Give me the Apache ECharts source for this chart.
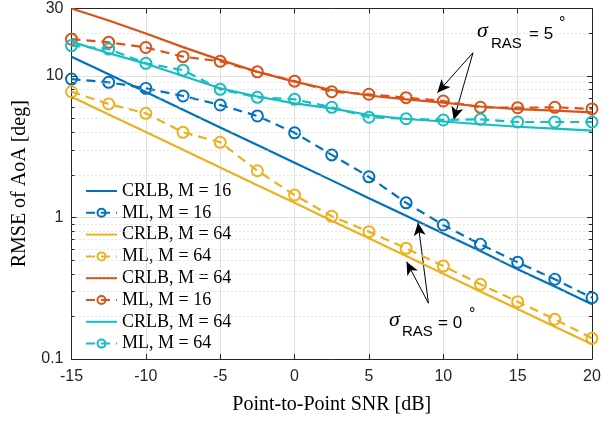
<!DOCTYPE html>
<html>
<head>
<meta charset="utf-8">
<script src="https://cdn.jsdelivr.net/npm/echarts@6/dist/echarts.min.js"></script>
<style>html,body{margin:0;padding:0;background:#fff}#c{width:604px;height:421px}</style>
</head>
<body>
<div id="c"></div>
<script>
// ---- data ----
const snr = [-15, -12.5, -10, -7.5, -5, -2.5, 0, 2.5, 5, 7.5, 10, 12.5, 15, 17.5, 20];
const xTicks = [-15, -10, -5, 0, 5, 10, 15, 20];
const yTickLabels = ['0.1', '1', '10', '30'];
const crlbM16Ras0 = [13.7, 10.3, 7.7, 5.78, 4.33, 3.25, 2.44, 1.83, 1.37, 1.03, 0.77, 0.58, 0.43, 0.325, 0.244];
const mlM16Ras0   = [9.52, 9.03, 8.19, 7.22, 6.24, 5.22, 3.97, 2.77, 1.94, 1.27, 0.885, 0.647, 0.482, 0.366, 0.271];
const crlbM64Ras0 = [7.14, 5.35, 4.02, 3.01, 2.26, 1.69, 1.27, 0.95, 0.714, 0.535, 0.40, 0.30, 0.226, 0.169, 0.127];
const mlM64Ras0   = [7.74, 6.34, 5.45, 4.0, 3.4, 2.14, 1.44, 1.02, 0.794, 0.606, 0.454, 0.337, 0.254, 0.191, 0.14];
const crlbRas5a   = [30.0, 24.7, 20.0, 16.0, 13.0, 10.7, 9.12, 7.96, 7.28, 6.84, 6.48, 6.09, 5.84, 5.69, 5.54];
const mlM16Ras5   = [18.2, 17.3, 15.9, 13.7, 12.7, 10.7, 9.2, 7.74, 7.43, 7.03, 6.66, 6.01, 5.97, 6.01, 5.85];
const crlbRas5b   = [17.5, 14.5, 12.2, 10.0, 8.19, 7.16, 6.41, 5.91, 5.3, 4.97, 4.77, 4.56, 4.38, 4.25, 4.11];
const mlM64Ras5   = [16.4, 15.5, 12.3, 11.0, 8.05, 7.07, 6.84, 6.01, 5.11, 4.99, 4.89, 4.94, 4.73, 4.73, 4.73];
const minorGrid = [0.2,0.3,0.4,0.5,0.6,0.7,0.8,0.9,2,3,4,5,6,7,8,9,20];
// arrow annotation endpoints in data coordinates [snr, rmse]
const arrows5 = { from: [12.0, 14.6], to: [[9.6, 7.62], [10.7, 4.89]] };
const arrows0 = { from: [9.0, 0.248], to: [[8.3, 0.919], [7.53, 0.487]] };

const names = ['CRLB, M = 16', 'ML, M = 16', 'CRLB, M = 64', 'ML, M = 64',
               'CRLB, M = 64 ', 'ML, M = 16 ', 'CRLB, M = 64  ', 'ML, M = 64 '];
const colors = ['#0072BD', '#0072BD', '#EDB120', '#EDB120', '#D95319', '#D95319', '#17BEC0', '#17BEC0'];
const values = [crlbM16Ras0, mlM16Ras0, crlbM64Ras0, mlM64Ras0, crlbRas5a, mlM16Ras5, crlbRas5b, mlM64Ras5];

const dark = '#262626';
const chart = echarts.init(document.getElementById('c'), null, {renderer: 'canvas'});

const series = [];
// minor dotted grid
series.push({
  type: 'line', data: [], silent: true, z: 1, animation: false,
  markLine: {
    silent: true, symbol: 'none', animation: false,
    label: {show: false},
    lineStyle: {color: '#c8c8c8', type: [1, 3], width: 1},
    data: minorGrid.map(v => ({yAxis: v}))
  }
});
// minor ticks on left/right
const mt = [];
minorGrid.forEach(v => {
  mt.push([{coord: [-15, v]}, {coord: [-14.8, v]}]);
  mt.push([{coord: [19.8, v]}, {coord: [20, v]}]);
});
series.push({
  type: 'line', data: [], silent: true, z: 1, animation: false,
  markLine: {silent: true, symbol: 'none', animation: false, label: {show: false},
    lineStyle: {color: dark, type: 'solid', width: 1}, data: mt}
});

values.forEach((vals, i) => {
  const isML = names[i].startsWith('ML');
  series.push({
    name: names[i], type: 'line', z: 3 + i,
    data: snr.map((x, k) => [x, vals[k]]),
    showSymbol: isML, symbol: isML ? 'circle' : 'none', symbolSize: 11,
    lineStyle: {color: colors[i], width: 2.2, type: isML ? [9, 6] : 'solid'},
    itemStyle: {color: 'rgba(255,255,255,0)', borderColor: colors[i], borderWidth: 2},
    emphasis: {disabled: true}, animation: false
  });
});

// arrows
const arrowData = [];
[arrows5, arrows0].forEach(a => a.to.forEach(t => arrowData.push([{coord: a.from}, {coord: t}])));
series.push({
  type: 'line', data: [], silent: true, z: 20, animation: false,
  markLine: {
    silent: true, animation: false, symbol: ['none', 'arrow'], symbolSize: [9, 13],
    label: {show: false},
    lineStyle: {color: '#000', width: 1, type: 'solid'},
    itemStyle: {color: '#000'},
    data: arrowData
  }
});

const sansTick = {fontFamily: 'Liberation Sans', fontSize: 16, color: dark};
const lbl = (text, x, y, font) => ({type: 'text', x, y, z: 100,
  style: Object.assign({text, fill: '#000', verticalAlign: 'middle', align: 'left'}, font)});
const sig = {fontFamily: 'Liberation Serif', fontStyle: 'italic', fontSize: 22};
const sub = {fontFamily: 'Liberation Sans', fontSize: 15};
const eq = {fontFamily: 'Liberation Sans', fontSize: 17};
const deg = {fontFamily: 'Liberation Sans', fontSize: 16};

const legendData = names.map(n => n.startsWith('ML') ? {name: n} :
  {name: n, itemStyle: {opacity: 0, color: 'rgba(0,0,0,0)', borderColor: 'rgba(0,0,0,0)', borderWidth: 0}});

chart.setOption({
  backgroundColor: '#fff',
  animation: false,
  grid: {left: 71.5, right: 12, top: 8.5, bottom: 62, containLabel: false, show: false},
  legend: {
    data: legendData, orient: 'vertical', left: 80, top: 177, itemGap: 3.8,
    itemWidth: 31, itemHeight: 10,
    formatter: n => n.trim(),
    textStyle: {fontFamily: 'Liberation Serif', fontSize: 18, color: '#000', lineHeight: 18},
    selectedMode: false
  },
  xAxis: [{
    type: 'value', min: -15, max: 20, interval: 5,
    name: 'Point-to-Point SNR [dB]', nameLocation: 'middle', nameGap: 36,
    nameTextStyle: {fontFamily: 'Liberation Serif', fontSize: 20, color: '#000'},
    axisLine: {show: true, onZero: false, lineStyle: {color: dark}},
    axisTick: {show: true, inside: true, length: 5, lineStyle: {color: dark}},
    axisLabel: Object.assign({margin: 10, formatter: v => String(v)}, sansTick),
    splitLine: {show: true, lineStyle: {color: '#e0e0e0', width: 1}}
  }, {
    type: 'value', min: -15, max: 20, interval: 5, position: 'top',
    axisLine: {show: true, onZero: false, lineStyle: {color: dark}},
    axisTick: {show: true, inside: true, length: 5, lineStyle: {color: dark}},
    axisLabel: {show: false}, splitLine: {show: false}
  }],
  yAxis: [{
    type: 'log', logBase: 10, min: 0.1, max: 30,
    name: 'RMSE of AoA [deg]', nameLocation: 'middle', nameGap: 42,
    nameTextStyle: {fontFamily: 'Liberation Serif', fontSize: 20, color: '#000'},
    axisLine: {show: true, onZero: false, lineStyle: {color: dark}},
    axisTick: {show: true, inside: true, length: 5, lineStyle: {color: dark}},
    axisLabel: Object.assign({margin: 8, formatter: v => {
      const r = Number(Number(v).toPrecision(2));
      const s = String(r);
      return yTickLabels.indexOf(s) >= 0 ? s : '';
    }}, sansTick),
    splitLine: {show: true, lineStyle: {color: '#e0e0e0', width: 1}}
  }, {
    type: 'log', logBase: 10, min: 0.1, max: 30, position: 'right',
    axisLine: {show: true, onZero: false, lineStyle: {color: dark}},
    axisTick: {show: true, inside: true, length: 5, lineStyle: {color: dark}},
    axisLabel: {show: false}, splitLine: {show: false}
  }],
  series: series,
  graphic: [
    lbl('σ', 477, 31, sig), lbl('RAS', 491, 44, sub), lbl('= 5', 529, 34, eq), lbl('°', 559, 24, deg),
    lbl('σ', 389, 320, sig), lbl('RAS', 402, 332, sub), lbl('= 0', 438, 323, eq), lbl('°', 469, 315, deg)
  ]
});
</script>
</body>
</html>
